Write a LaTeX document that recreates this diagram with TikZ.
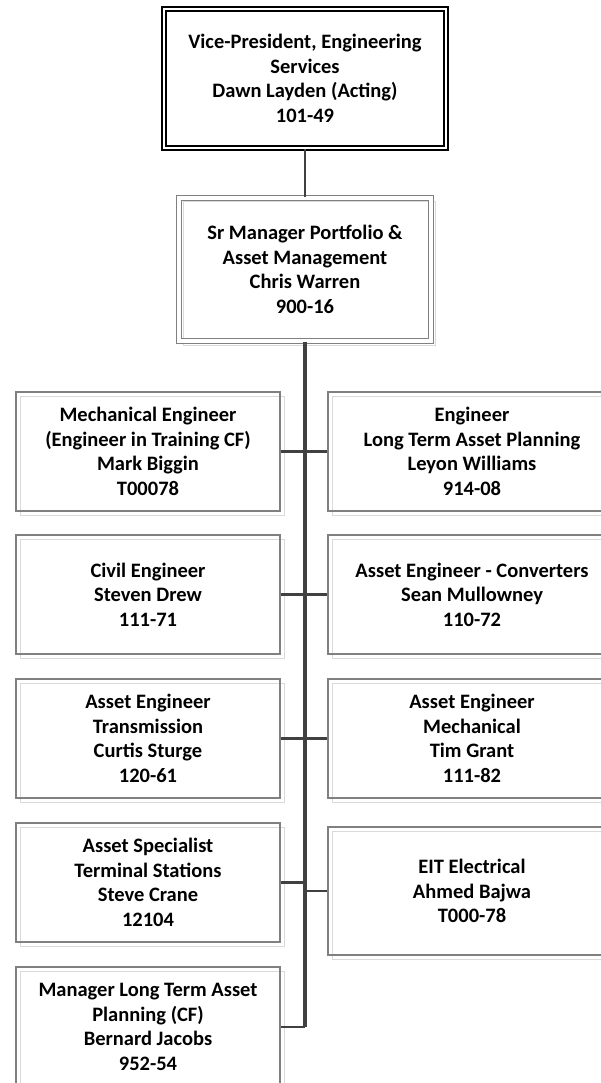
\documentclass[tikz,border=0pt]{standalone}
\usepackage{fontspec}
\setmainfont{Carlito}
\definecolor{boxgray}{HTML}{808080}
\definecolor{ghostgray}{HTML}{DADADA}
\definecolor{linegray}{HTML}{404040}
\newcommand\orgbox[7]{%
  \draw[ghost] ({#2+4},{#3+4}) rectangle ({#4+4},{#5+4});
  \node[#6, minimum width={#4-#2}, minimum height={#5-#3}] (#1) at ({(#2+#4)/2},{(#3+#5)/2}) {#7};
}
\begin{document}
\begin{tikzpicture}[x=1pt,y=-1pt,
  lbl/.style={font=\bfseries\fontsize{20.5}{24.5}\selectfont, align=center, inner sep=0pt, text=black},
  pbox/.style={lbl, draw=boxgray, line width=1.3pt},
  topbox/.style={lbl, draw=black, line width=1.8pt, double=white, double distance=2.6pt},
  midbox/.style={lbl, draw=boxgray, line width=1.3pt, double=white, double distance=3.2pt},
  ghost/.style={draw=ghostgray, line width=1pt},
  trunk/.style={draw=linegray, line width=3.5pt},
  stub/.style={draw=linegray, line width=2.3pt},
  conn/.style={draw=linegray, line width=2.3pt}]
\useasboundingbox (0,0) rectangle (601,1083);
\clip (0,0) rectangle (601,1083);
\fill[white] (0,0) rectangle (601,1083);

\node[topbox, minimum width=282, minimum height=139] (vp) at (305,78.5)
  {Vice-President, Engineering\\Services\\Dawn Layden (Acting)\\101-49};
\draw[ghost] (179+4,198+4) rectangle (431+4,341+4);
\node[midbox, minimum width=252, minimum height=143] (sm) at (305,269.5)
  {Sr Manager Portfolio \&\\Asset Management\\Chris Warren\\900-16};

\orgbox{l1}{16}{392}{280}{511}{pbox}{Mechanical Engineer\\(Engineer in Training CF)\\Mark Biggin\\T00078}
\orgbox{l2}{16}{535}{280}{654}{pbox}{Civil Engineer\\Steven Drew\\111-71}
\orgbox{l3}{16}{679}{280}{798}{pbox}{Asset Engineer\\Transmission\\Curtis Sturge\\120-61}
\orgbox{l4}{16}{823}{280}{942}{pbox}{Asset Specialist\\Terminal Stations\\Steve Crane\\12104}
\orgbox{l5}{16}{967}{280}{1087}{pbox}{Manager Long Term Asset\\Planning (CF)\\Bernard Jacobs\\952-54}

\orgbox{r1}{328}{392}{616}{511}{pbox}{Engineer\\Long Term Asset Planning\\Leyon Williams\\914-08}
\orgbox{r2}{328}{535}{616}{654}{pbox}{Asset Engineer - Converters\\Sean Mullowney\\110-72}
\orgbox{r3}{328}{679}{616}{798}{pbox}{Asset Engineer\\Mechanical\\Tim Grant\\111-82}
\orgbox{r4}{328}{827}{616}{955}{pbox}{EIT Electrical\\Ahmed Bajwa\\T000-78}

\coordinate (tend) at (305,1027);
\draw[conn] (vp.south) -- (sm.north);
\draw[trunk] (sm.south) -- (tend);
\draw[stub] (l1.east) -- (l1.east -| tend);
\draw[stub] (l2.east) -- (l2.east -| tend);
\draw[stub] (l3.east) -- (l3.east -| tend);
\draw[stub] (l4.east) -- (l4.east -| tend);
\draw[stub] (l5.east) -- (l5.east -| tend);
\draw[stub] (r1.west) -- (r1.west -| tend);
\draw[stub] (r2.west) -- (r2.west -| tend);
\draw[stub] (r3.west) -- (r3.west -| tend);
\draw[stub] (r4.west) -- (r4.west -| tend);
\end{tikzpicture}
\end{document}
